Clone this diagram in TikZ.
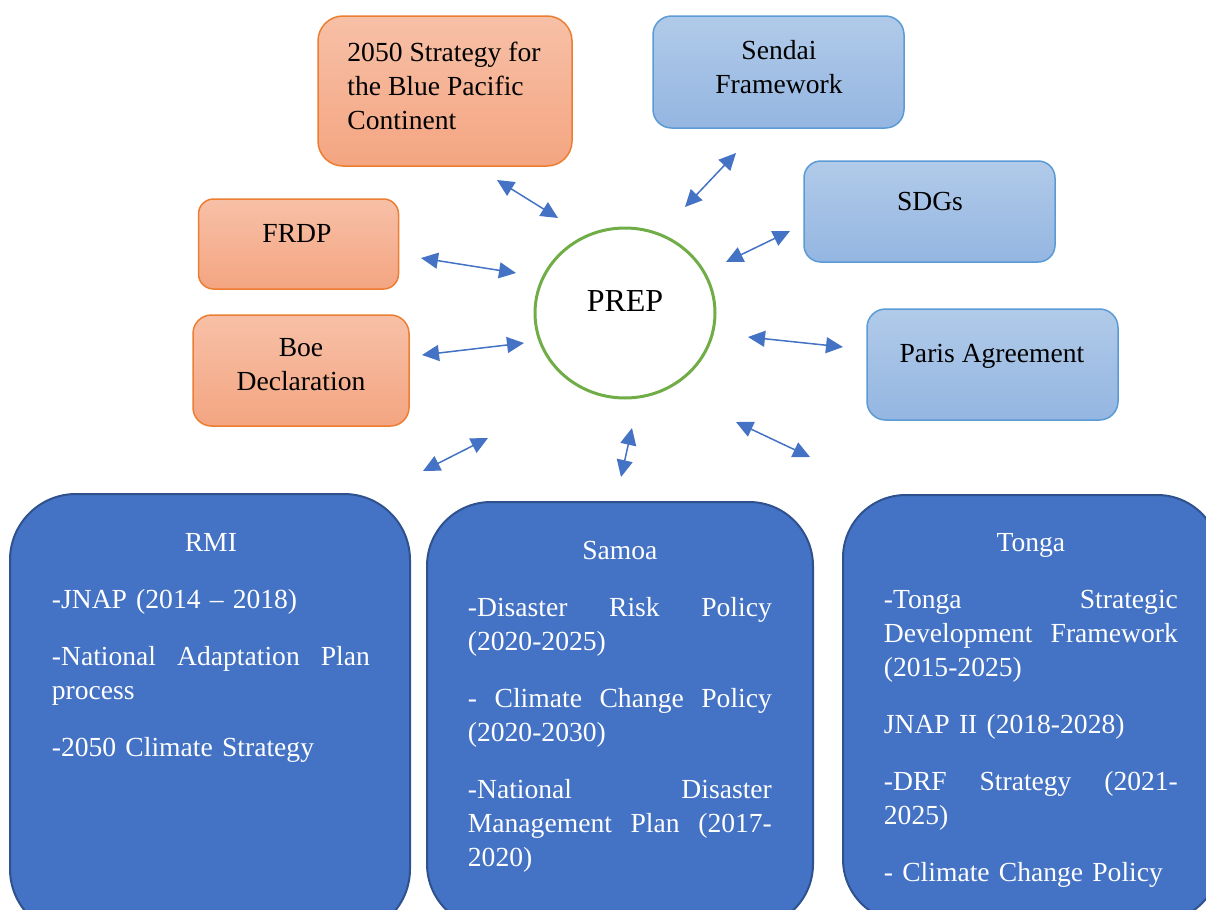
\documentclass[tikz,border=0pt]{standalone}
\usepackage{fontspec}
\setmainfont{Liberation Serif}
\usepackage{xcolor}
\usepackage{tikz}
\usetikzlibrary{arrows.meta,positioning,shapes.geometric}
\makeatletter
\renewcommand\small{%
  \@setfontsize\small{13.8pt}{17pt}%
}
\renewcommand\large{%
  \@setfontsize\large{16pt}{19pt}%
}
\makeatother
% a justified line: words spread with \hfill
\newcommand\fullline[1]{\leavevmode\hbox to\linewidth{#1}}
\definecolor{orangeline}{HTML}{ED7D31}
\definecolor{orangetop}{HTML}{F7C0A7}
\definecolor{orangebot}{HTML}{F4A581}
\definecolor{blueline}{HTML}{5B9BD5}
\definecolor{bluetop}{HTML}{B1CAE9}
\definecolor{bluebot}{HTML}{94B6E1}
\definecolor{countryfill}{HTML}{4472C4}
\definecolor{countryline}{HTML}{2F528F}
\definecolor{ringgreen}{HTML}{70AD47}

\begin{document}
\begin{tikzpicture}[x=0.5pt, y=-0.5pt, >={Triangle[length=8.5pt, width=8pt]},
  every node/.style={font=\small},
  orangebox/.style={draw=orangeline, line width=0.75pt, top color=orangetop, bottom color=orangebot},
  bluebox/.style={draw=blueline, line width=0.75pt, top color=bluetop, bottom color=bluebot},
  country/.style={draw=countryline, line width=1pt, fill=countryfill},
  body/.style={anchor=north west, inner sep=0pt, text=white, align=left, text width=#1},
  link/.style={<->, draw=countryfill, line width=0.75pt}]
  \clip (0,0) rectangle (1206,910);

  % regional frameworks
  \node[orangebox, minimum width=127pt, minimum height=75pt, rounded corners=12.5pt] (strategy) at (445,91) {};
  \node[orangebox, minimum width=100pt, minimum height=45pt, rounded corners=7.5pt] (frdp) at (298.5,244) {};
  \node[orangebox, minimum width=108pt, minimum height=55.5pt, rounded corners=9.25pt] (boe) at (301,370.5) {};
  \node[anchor=west, align=left, inner sep=0pt] (strategy-txt) at (347,86) {2050 Strategy for\\the Blue Pacific\\Continent};
  \node (frdp-txt) at (297,233) {FRDP};
  \node[align=center] (boe-txt) at (301,365) {Boe\\Declaration};

  % global frameworks
  \node[bluebox, minimum width=125.5pt, minimum height=56pt, rounded corners=9.3pt] (sendai) at (778.5,72) {};
  \node[bluebox, minimum width=125.5pt, minimum height=50.5pt, rounded corners=8.4pt] (sdgs) at (929.5,211.5) {};
  \node[bluebox, minimum width=125.5pt, minimum height=55.5pt, rounded corners=9.25pt] (paris) at (992.5,364.5) {};
  \node[align=center] (sendai-txt) at (779,67) {Sendai\\Framework};
  \node (sdgs-txt) at (930,201.5) {SDGs};
  \node (paris-txt) at (992,356) {Paris Agreement};

  % centre
  \node[ellipse, draw=ringgreen, line width=1.5pt, fill=white, minimum width=90pt, minimum height=85pt] (prep) at (625,313) {};
  \node[font=\large] (prep-txt) at (625,301) {PREP};

  % countries
  \node[country, minimum width=200pt, minimum height=220.5pt, rounded corners=33pt] (rmi) at (210,714.5) {};
  \node[country, minimum width=193pt, minimum height=213pt, rounded corners=32pt] (samoa) at (620,715) {};
  \node[country, minimum width=188.5pt, minimum height=213.5pt, rounded corners=31.4pt] (tonga) at (1031.5,708.5) {};
  \node[body=159pt] (rmi-txt) at (51.5,532.6) {\makebox[\linewidth]{RMI}\\[11.5pt]
    -JNAP (2014 -- 2018)\\[11.5pt]
    \fullline{-National\hfill Adaptation\hfill Plan}\\
    process\\[11.5pt]
    -2050 Climate Strategy};
  \node[body=152pt] (samoa-txt) at (467.5,541) {\makebox[\linewidth]{Samoa}\\[11.5pt]
    \fullline{-Disaster\hfill Risk\hfill Policy}\\
    (2020-2025)\\[11.5pt]
    \fullline{-\hfill Climate\hfill Change\hfill Policy}\\
    (2020-2030)\\[11.5pt]
    \fullline{-National\hfill Disaster}\\
    \fullline{Management\hfill Plan\hfill (2017-}\\
    2020)};
  \node[body=147pt] (tonga-txt) at (883.5,532.6) {\makebox[\linewidth]{Tonga}\\[11.5pt]
    \fullline{-Tonga\hfill Strategic}\\
    \fullline{Development\hfill Framework}\\
    (2015-2025)\\[11.5pt]
    JNAP II (2018-2028)\\[11.5pt]
    \fullline{-DRF\hfill Strategy\hfill (2021-}\\
    2025)\\[11.5pt]
    - Climate Change Policy};

  % arrow ends around the centre
  \coordinate (strategy-a) at (497,180);  \coordinate (strategy-b) at (558,218);
  \coordinate (sendai-a) at (736,153);    \coordinate (sendai-b) at (685,207);
  \coordinate (sdgs-a) at (790,231);      \coordinate (sdgs-b) at (726,262);
  \coordinate (frdp-a) at (421,258);      \coordinate (frdp-b) at (516,273);
  \coordinate (boe-a) at (422,355);       \coordinate (boe-b) at (524,343);
  \coordinate (paris-a) at (843,347);     \coordinate (paris-b) at (748,337);
  \coordinate (rmi-a) at (423,471);       \coordinate (rmi-b) at (488,438);
  \coordinate (samoa-a) at (621,477);     \coordinate (samoa-b) at (632,428);
  \coordinate (tonga-a) at (810,457);     \coordinate (tonga-b) at (736,422);

  \draw[link] (strategy-a) -- (strategy-b);
  \draw[link] (sendai-a) -- (sendai-b);
  \draw[link] (sdgs-a) -- (sdgs-b);
  \draw[link] (frdp-a) -- (frdp-b);
  \draw[link] (boe-a) -- (boe-b);
  \draw[link] (paris-a) -- (paris-b);
  \draw[link] (rmi-a) -- (rmi-b);
  \draw[link] (samoa-a) -- (samoa-b);
  \draw[link] (tonga-a) -- (tonga-b);
\end{tikzpicture}
\end{document}
